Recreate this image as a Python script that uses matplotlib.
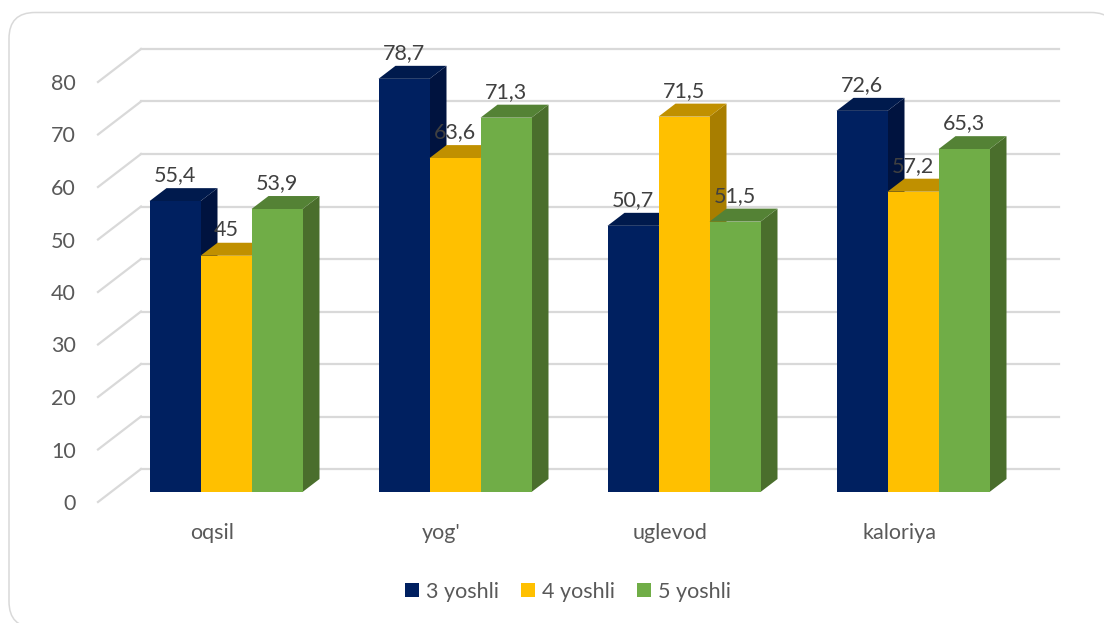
import matplotlib
matplotlib.use("Agg")
import matplotlib.pyplot as plt
from matplotlib.patches import FancyBboxPatch, Polygon

plt.rcParams['font.family'] = ['Lato', 'DejaVu Sans']

categories = ["oqsil", "yog'", "uglevod", "kaloriya"]
series_names = ["3 yoshli", "4 yoshli", "5 yoshli"]
values_3 = [55.4, 78.7, 50.7, 72.6]
values_4 = [45, 63.6, 71.5, 57.2]
values_5 = [53.9, 71.3, 51.5, 65.3]
y_ticks = [0, 10, 20, 30, 40, 50, 60, 70, 80]

front_colors = ["#002060", "#FFC000", "#70AD47"]
top_colors = ["#001A4D", "#C09000", "#548235"]
side_colors = ["#00133F", "#A87E00", "#4A6E2C"]
GRID = "#D9D9D9"

W, H = 1104, 623
PX_X = 229.0   # pixels per category
PX_Y = 5.25    # pixels per unit
FS = 15.5

fig = plt.figure(figsize=(W / 100, H / 100), dpi=100)

# rounded card behind the chart, runs off the right and bottom edge
bg = fig.add_axes([0, 0, 1, 1], zorder=0)
bg.set_xlim(0, W)
bg.set_ylim(H, 0)
bg.axis("off")
bg.add_patch(FancyBboxPatch((9, 12.5), 1108, 615, boxstyle="round,pad=0,rounding_size=26",
                            fc="white", ec=GRID, lw=1.1))

ax = fig.add_axes([98 / W, (H - 502) / H, 916 / W, 420 / H], zorder=1)
ax.patch.set_alpha(0)
ax.set_xlim(-0.5, 3.5)
ax.set_ylim(0, 80)
for s in ax.spines.values():
    s.set_visible(False)

# back wall and floor depth
wall_x, wall_y = 43 / PX_X, 33 / PX_Y
grid_end = 3.5 + 45 / PX_X
for v in y_ticks:
    ax.plot([-0.5, -0.5 + wall_x], [v, v + wall_y], color=GRID, lw=1.6, clip_on=False, zorder=1)
    ax.plot([-0.5 + wall_x, grid_end], [v + wall_y, v + wall_y], color=GRID, lw=1.6,
            clip_on=False, zorder=1)

# bar plane sits a bit behind the axis plane
plane_x, plane_y = 13.5 / PX_X, 10 / PX_Y
depth_x, depth_y = 17 / PX_X, 13 / PX_Y
bar_w = 51 / PX_X

all_values = [values_3, values_4, values_5]
z = 2
handles = []
for i in range(len(categories)):
    for j, vals in enumerate(all_values):
        v = vals[i]
        x0 = i + plane_x + (j - 1.5) * bar_w
        x1 = x0 + bar_w
        top = v + plane_y
        ax.add_patch(Polygon([(x1, plane_y), (x1 + depth_x, plane_y + depth_y),
                              (x1 + depth_x, top + depth_y), (x1, top)],
                             fc=side_colors[j], ec="none", clip_on=False, zorder=z))
        ax.add_patch(Polygon([(x0, top), (x1, top), (x1 + depth_x, top + depth_y),
                              (x0 + depth_x, top + depth_y)],
                             fc=top_colors[j], ec="none", clip_on=False, zorder=z))
        b = ax.bar(x0, v, bar_w, bottom=plane_y, align="edge", color=front_colors[j],
                   clip_on=False, zorder=z + 0.5, label=series_names[j] if i == 0 else None)
        if i == 0:
            handles.append(b)
        z += 1

for i in range(len(categories)):
    for j, vals in enumerate(all_values):
        v = vals[i]
        xc = i + plane_x + (j - 1) * bar_w
        ax.annotate(f"{v:g}".replace(".", ","), (xc, v + plane_y), xytext=(0, 18.5),
                    textcoords="offset points", ha="center", va="center",
                    fontsize=FS, color="#404040", zorder=100, annotation_clip=False)

ax.set_yticks(y_ticks)
ax.set_xticks(range(len(categories)))
ax.set_xticklabels(categories)
ax.tick_params(axis="both", length=0, labelsize=FS, labelcolor="#595959")
ax.tick_params(axis="y", pad=16)
ax.tick_params(axis="x", pad=15)

fig.legend(handles=handles, labels=series_names, loc="center",
           bbox_to_anchor=(568 / W, (H - 591.5) / H), ncol=3, frameon=False, fontsize=FS,
           labelcolor="#595959", handlelength=0.65, handleheight=0.65,
           handletextpad=0.3, columnspacing=1.05)

fig.savefig("out.png", dpi=100)
